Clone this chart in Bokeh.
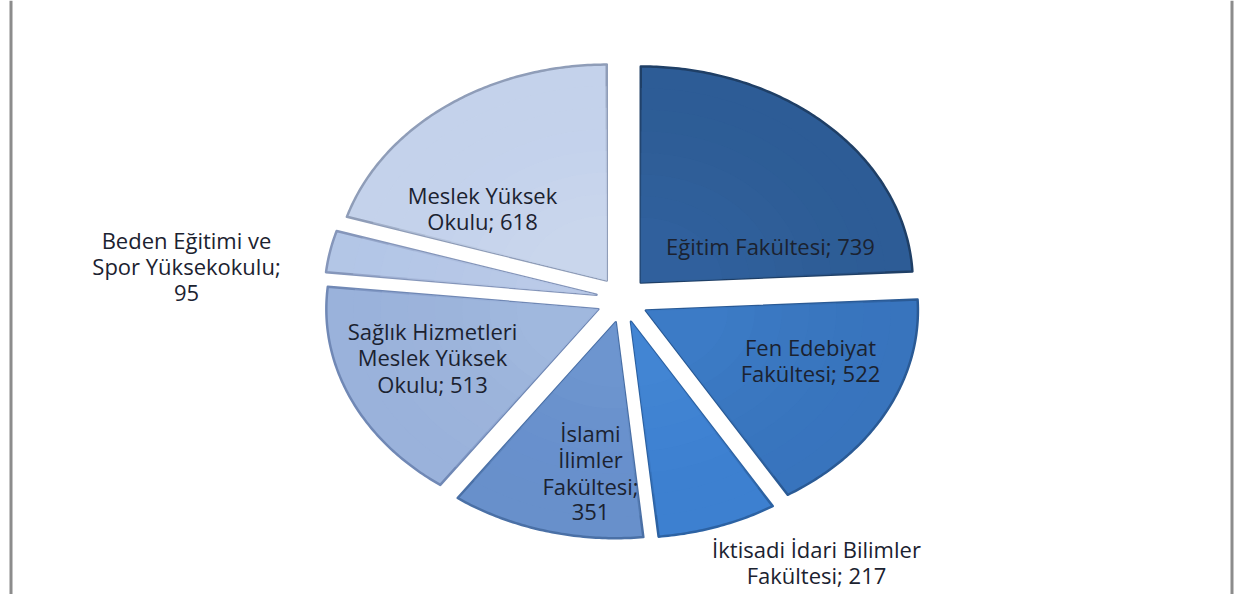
import math
import textwrap
from bokeh.plotting import figure
from bokeh.models import Range1d, Span
from bokeh.core.properties import value
from bokeh.embed import file_html
from bokeh.resources import INLINE

# ---- data ----
categories = ["Eğitim Fakültesi", "Fen Edebiyat Fakültesi", "İktisadi İdari Bilimler Fakültesi",
              "İslami İlimler Fakültesi", "Sağlık Hizmetleri Meslek Yüksek Okulu",
              "Beden Eğitimi ve Spor Yüksekokulu", "Meslek Yüksek Okulu"]
counts = [739, 522, 217, 351, 513, 95, 618]

# ---- styles / layout ----
fill_colors = ["#2D5C96", "#3874BD", "#3D80D0", "#6890CB", "#9AB2DB", "#B3C6E6", "#C4D2EB"]
rim_colors = ["#1F3F66", "#2A5A95", "#2C62A3", "#4A70A6", "#7088B5", "#8596BA", "#8F9DB8"]
inner_colors = ["#3363A0", "#3F7FCA", "#4688D6", "#7098D1", "#A3BAE0", "#BCCCEA", "#CCD9EF"]
wrap_widths = [30, 14, 23, 10, 17, 17, 13]
label_pos = [(770, 245), (810, 346), (816, 548), (590, 432), (432, 330), (186, 239), (482, 194)]
line_step = 26.5

CX, CY = 622.0, 299.0
RX, RY = 272.0, 216.0
DX, DY = 26.5, 23.5

W, H = 1236, 594
p = figure(width=W, height=H, output_backend="svg", toolbar_location=None,
           x_range=Range1d(0, W), y_range=Range1d(H, 0),
           min_border=0, outline_line_color=None)
p.axis.visible = False
p.grid.visible = False
p.background_fill_color = "white"
p.border_fill_color = "white"


def hex_mix(c1, c2, t):
    a = [int(c1[i:i + 2], 16) for i in (1, 3, 5)]
    b = [int(c2[i:i + 2], 16) for i in (1, 3, 5)]
    m = [round(a[k] + (b[k] - a[k]) * t) for k in range(3)]
    return "#%02x%02x%02x" % tuple(m)


total = float(sum(counts))
start = 0.0
N_LAYERS = 8
for i, v in enumerate(counts):
    span_deg = v / total * 360.0
    a0, a1 = start, start + span_deg
    am = math.radians((a0 + a1) / 2)
    ox, oy = DX * math.sin(am), -DY * math.cos(am)
    ax, ay = CX + ox, CY + oy
    n = max(4, int(span_deg * 1.5))
    ts = [math.radians(a0 + (a1 - a0) * k / n) for k in range(n + 1)]
    arc_x = [RX * math.sin(t) for t in ts]
    arc_y = [-RY * math.cos(t) for t in ts]
    xs = [ax] + [ax + x for x in arc_x]
    ys = [ay] + [ay + y for y in arc_y]
    p.patch(xs, ys, fill_color=fill_colors[i], line_color=rim_colors[i], line_width=2.5,
            line_join="round")
    for k in range(1, N_LAYERS):
        s = 1.0 - 0.1 * k
        col = hex_mix(fill_colors[i], inner_colors[i], k / (N_LAYERS - 1))
        xs2 = [ax] + [ax + x * s for x in arc_x]
        ys2 = [ay] + [ay + y * s for y in arc_y]
        p.patch(xs2, ys2, fill_color=col, line_color=None, fill_alpha=0.35)
    start = a1

for i, (cat, v) in enumerate(zip(categories, counts)):
    lines = textwrap.wrap(f"{cat}; {v}", width=wrap_widths[i])
    lx, ly = label_pos[i]
    p.text(x=[lx] * len(lines), y=[ly + k * line_step for k in range(len(lines))], text=lines,
           text_font=value("Open Sans"), text_font_size="22px", text_color="#1b2230",
           text_align="center", text_baseline="middle")

p.add_layout(Span(location=10.5, dimension="height", line_color="#8c8c8c", line_width=3))
p.add_layout(Span(location=1231.5, dimension="height", line_color="#8c8c8c", line_width=3))

open("out.html", "w").write(file_html(p, INLINE))
